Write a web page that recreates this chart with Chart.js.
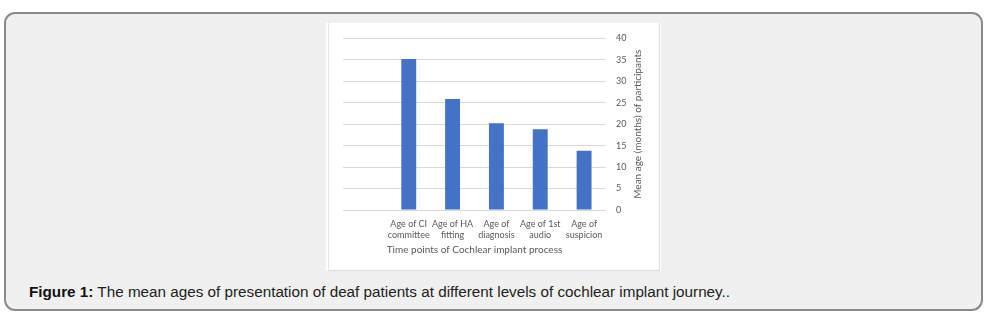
<!DOCTYPE html>
<html>
<head>
<meta charset="utf-8">
<script src="https://cdn.jsdelivr.net/npm/chart.js@4.4.1/dist/chart.umd.min.js"></script>
<style>
  html, body { margin: 0; padding: 0; background: #ffffff; }
  body { width: 994px; height: 323px; position: relative; overflow: hidden; }
  .figure-box {
    position: absolute; left: 4px; top: 12px; width: 975px; height: 295px;
    background: #f0f0f0; border: 2px solid #8a8a8a; border-radius: 11px;
  }
  .chart-panel {
    position: absolute; left: 326px; top: 23px; width: 335px; height: 248px;
    background: #ffffff;
  }
  .chart-frame {
    position: absolute; left: 2px; top: 0; width: 330px; height: 247px;
    border-left: 1px solid #e6e6e6; border-right: 1px solid #dcdcdc; border-bottom: 1px solid #dcdcdc;
  }
  #chart { position: absolute; left: 0; top: 0; }
  .caption {
    position: absolute; left: 29px; top: 283px;
    font-family: Arial, "Liberation Sans", sans-serif; font-size: 15.25px; color: #222222;
    white-space: nowrap;
  }
  .caption b { color: #111111; }
</style>
</head>
<body>
<div class="figure-box"></div>
<div class="chart-panel">
  <div class="chart-frame"></div>
  <canvas id="chart" width="335" height="248"></canvas>
</div>
<div class="caption"><b>Figure 1:</b> The mean ages of presentation of deaf patients at different levels of cochlear implant journey..</div>

<script>
// time points along the cochlear implant pathway (first slot is left empty)
const stages = [
    "",
    ["Age of CI", "committee"],
    ["Age of HA", "fitting"],
    ["Age of", "diagnosis"],
    ["Age of 1st", "audio"],
    ["Age of", "suspicion"]
];
const meanAges = [null, 35.2, 25.9, 20.2, 18.8, 13.8];
const yTicks = [0, 5, 10, 15, 20, 25, 30, 35, 40];

const textGrey = "#595959";
const chartFont = "Lato, 'Open Sans', sans-serif";

// vertical axis title, reading bottom to top beside the right-hand ticks
const yTitlePlugin = {
    id: "yTitle",
    afterDraw(chart) {
        const ctx = chart.ctx;
        const area = chart.chartArea;
        ctx.save();
        ctx.translate(area.right + 32, (area.top + area.bottom) / 2);
        ctx.rotate(-Math.PI / 2);
        ctx.font = "10px " + chartFont;
        ctx.fillStyle = textGrey;
        ctx.textAlign = "center";
        ctx.textBaseline = "middle";
        ctx.fillText("Mean age (months) of participants", 0, 0);
        ctx.restore();
    }
};

const ctx = document.getElementById("chart").getContext("2d");
new Chart(ctx, {
    type: "bar",
    data: {
        labels: stages,
        datasets: [{
            data: meanAges,
            backgroundColor: "#4472c4",
            borderWidth: 0,
            categoryPercentage: 1,
            barPercentage: 0.34
        }]
    },
    options: {
        responsive: false,
        animation: false,
        layout: { padding: { left: 17, top: 14, right: 0, bottom: 0 } },
        plugins: {
            legend: { display: false },
            tooltip: { enabled: false }
        },
        scales: {
            x: {
                grid: { display: false },
                border: { display: false },
                ticks: {
                    color: textGrey,
                    font: { family: chartFont, size: 9 },
                    padding: 1,
                    maxRotation: 0,
                    autoSkip: false
                },
                title: {
                    display: true,
                    text: "Time points of Cochlear implant process",
                    color: textGrey,
                    font: { family: chartFont, size: 10 },
                    padding: { top: 0, bottom: 15 }
                },
                afterFit(scale) { scale.height = 61; }
            },
            y: {
                position: "right",
                min: 0,
                max: 40,
                afterBuildTicks(scale) { scale.ticks = yTicks.map(v => ({ value: v })); },
                grid: { color: "#d9d9d9", drawTicks: false },
                border: { display: false },
                ticks: {
                    color: textGrey,
                    font: { family: chartFont, size: 9 },
                    padding: 10
                },
                afterFit(scale) { scale.width = 55; }
            }
        }
    },
    plugins: [yTitlePlugin]
});
</script>
</body>
</html>
